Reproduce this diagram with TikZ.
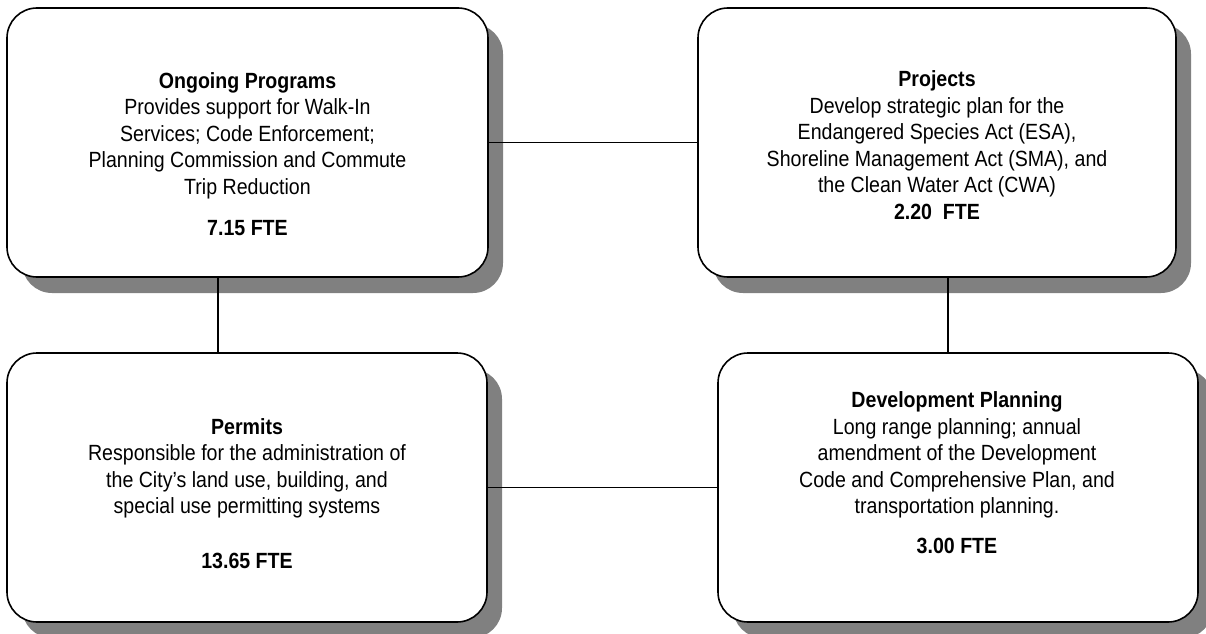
\documentclass[tikz,border=0pt]{standalone}
\usepackage{fontspec}
\setmainfont{Liberation Sans}[FakeStretch=0.89]
\usepackage{xcolor}
\usetikzlibrary{positioning,shadows}

\definecolor{shadowgray}{HTML}{808080}

\begin{document}
\begin{tikzpicture}[x=1pt,y=1pt]
	\tikzstyle{unitbox}=[draw=black, line width=1.6pt, fill=white, rounded corners=30pt,
		minimum height=269pt, inner sep=0pt,
		drop shadow={shadow xshift=15pt, shadow yshift=-16pt, fill=shadowgray, opacity=1}]
	\tikzstyle{unittext}=[align=center, inner sep=0pt, font=\fontsize{22}{26.5}\selectfont]
	\tikzstyle{link}=[draw=black, line width=1.5pt]
	\useasboundingbox (0,0) rectangle (1206,633);
	% the four work units
	\node[unitbox, minimum width=481pt] (ongoing) at (247.5,490.5) {};
	\node[unitbox, minimum width=478pt] (projects) at (937,490.5) {};
	\node[unitbox, minimum width=480pt] (permits) at (247,145.5) {};
	\node[unitbox, minimum width=480pt] (devplan) at (958,145.5) {};
	% their texts
	\node[unittext] (ongoing-text) at (247.5,479) {\textbf{Ongoing Programs}\\Provides support for Walk-In\\Services; Code Enforcement;\\Planning Commission and Commute\\Trip Reduction\\[15pt]\textbf{7.15 FTE}};
	\node[unittext] (projects-text) at (937,488) {\textbf{Projects}\\Develop strategic plan for the\\Endangered Species Act (ESA),\\Shoreline Management Act (SMA), and\\the Clean Water Act (CWA)\\\textbf{2.20\ \ FTE}};
	\node[unittext] (permits-text) at (247,139.5) {\textbf{Permits}\\Responsible for the administration of\\the City’s land use, building, and\\special use permitting systems\\[28pt]\textbf{13.65 FTE}};
	\node[unittext] (devplan-text) at (957,160.5) {\textbf{Development Planning}\\Long range planning; annual\\amendment of the Development\\Code and Comprehensive Plan, and\\transportation planning.\\[13pt]\textbf{3.00 FTE}};
	% connectors
	\coordinate (left-drop) at (218,0);
	\coordinate (right-drop) at (948,0);
	\draw[link] (ongoing.east) -- (projects.west);
	\draw[link] (permits.east) -- (devplan.west);
	\draw[link] (ongoing.south -| left-drop) -- (permits.north -| left-drop);
	\draw[link] (projects.south -| right-drop) -- (devplan.north -| right-drop);
\end{tikzpicture}
\end{document}
